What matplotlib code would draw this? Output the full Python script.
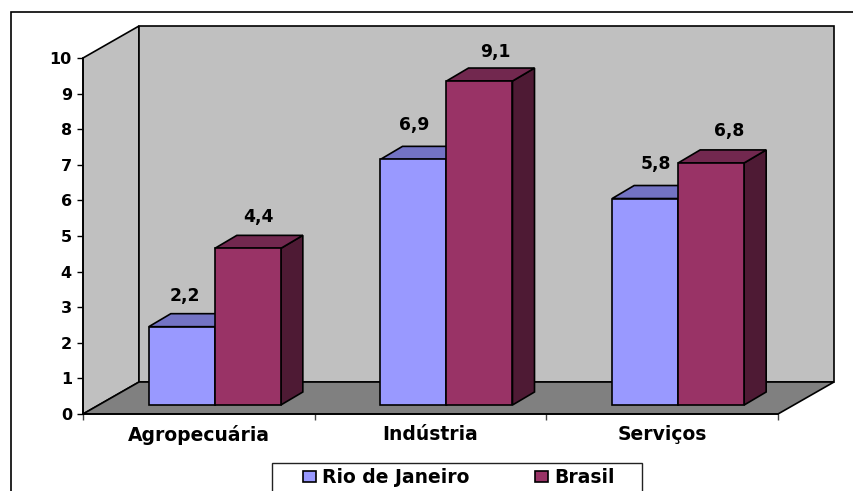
import matplotlib.pyplot as plt
from matplotlib.patches import Polygon, Rectangle

# Emprego por setor
categories = ["Agropecuária", "Indústria", "Serviços"]
series_names = ["Rio de Janeiro", "Brasil"]
rio_values = [2.2, 6.9, 5.8]
brasil_values = [4.4, 9.1, 6.8]
y_ticks = list(range(0, 11))

W, H = 854, 491
LEFT, RIGHT, TOP, BOTTOM = 83, 778, 58, 414
FONT = {"family": "DejaVu Sans", "weight": "bold"}

fig = plt.figure(figsize=(W / 100, H / 100), dpi=100, facecolor="white")
ax = fig.add_axes([LEFT / W, (H - BOTTOM) / H, (RIGHT - LEFT) / W, (BOTTOM - TOP) / H])
ax.set_xlim(0, len(categories))
ax.set_ylim(0, 10)
ax.patch.set_visible(False)

# pixel sizes converted to data units, used for the oblique depth
ux = (RIGHT - LEFT) / len(categories)
uy = (BOTTOM - TOP) / 10
wall_dx, wall_dy = 56 / ux, 32 / uy
bar_dx, bar_dy = 22 / ux, 13 / uy
front_dx, front_dy = 16 / ux, 9 / uy
bar_w = 66 / ux


def poly(points, face, z, lw=1.2):
    ax.add_patch(Polygon(points, closed=True, facecolor=face, edgecolor="black",
                         linewidth=lw, joinstyle="miter", clip_on=False, zorder=z))


n = len(categories)
# walls and floor
poly([(0, 0), (wall_dx, wall_dy), (wall_dx, 10 + wall_dy), (0, 10)], "#C0C0C0", 1)
poly([(wall_dx, wall_dy), (n + wall_dx, wall_dy), (n + wall_dx, 10 + wall_dy),
      (wall_dx, 10 + wall_dy)], "#C0C0C0", 1)
poly([(0, 0), (n, 0), (n + wall_dx, wall_dy), (wall_dx, wall_dy)], "#808080", 2)


def bar3d(x0, value, front, top, side, z):
    x1 = x0 + bar_w
    y0 = front_dy
    y1 = y0 + value
    poly([(x1, y0), (x1 + bar_dx, y0 + bar_dy), (x1 + bar_dx, y1 + bar_dy), (x1, y1)], side, z)
    poly([(x0, y1), (x1, y1), (x1 + bar_dx, y1 + bar_dy), (x0 + bar_dx, y1 + bar_dy)], top, z)
    poly([(x0, y0), (x1, y0), (x1, y1), (x0, y1)], front, z)


# label offsets from the bar's front-top centre, in pixels
rio_label_off = [(3, 31), (1, 34), (11, 35)]
brasil_label_off = [(11, 31), (16, 29), (18, 32)]

for i in range(n):
    x_rio = i + 0.5 + front_dx - bar_w
    x_bra = i + 0.5 + front_dx
    bar3d(x_rio, rio_values[i], "#9999FF", "#7373C4", "#5F5F9F", 3 + i)
    bar3d(x_bra, brasil_values[i], "#993366", "#72284F", "#4E1A34", 3 + i + 0.5)
    ax.annotate(f"{rio_values[i]}".replace(".", ","),
                (x_rio + bar_w / 2, front_dy + rio_values[i]),
                xytext=rio_label_off[i], textcoords="offset pixels",
                ha="center", va="center", fontsize=12.3, zorder=10, annotation_clip=False, **FONT)
    ax.annotate(f"{brasil_values[i]}".replace(".", ","),
                (x_bra + bar_w / 2, front_dy + brasil_values[i]),
                xytext=brasil_label_off[i], textcoords="offset pixels",
                ha="center", va="center", fontsize=12.3, zorder=10, annotation_clip=False, **FONT)

# axes
for s in ["top", "right"]:
    ax.spines[s].set_visible(False)
for s in ["left", "bottom"]:
    ax.spines[s].set_linewidth(1.2)
    ax.spines[s].set_zorder(2.5)

ax.set_yticks(y_ticks)
ax.set_yticklabels([str(t) for t in y_ticks], fontsize=11.5, **FONT)
ax.tick_params(axis="y", length=4.5, width=1, pad=3.5)
ax.set_xticks(range(n + 1))
ax.set_xticklabels([])
ax.tick_params(axis="x", which="major", length=4.5, width=1, color="#444444")
ax.set_xticks([i + 0.5 for i in range(n)], minor=True)
ax.set_xticklabels(categories, minor=True, fontsize=13.5, **FONT)
ax.tick_params(axis="x", which="minor", length=0, pad=8)

# outer frame runs past the right and bottom edges of the figure
fig.add_artist(Rectangle((11 / W, -0.1), 1, (H - 12) / H + 0.1, transform=fig.transFigure,
                         facecolor="none", edgecolor="black", linewidth=1.2))

# legend box also runs off the bottom edge
fig.add_artist(Rectangle((272 / W, -0.1), 370 / W, (H - 463) / H + 0.1, transform=fig.transFigure,
                         facecolor="white", edgecolor="#222222", linewidth=1.0))
handles = [Rectangle((0, 0), 1, 1, facecolor="#9999FF", edgecolor="black", linewidth=1.2),
           Rectangle((0, 0), 1, 1, facecolor="#993366", edgecolor="black", linewidth=1.2)]
leg = fig.legend(handles, series_names, loc="upper left", bbox_to_anchor=(303 / W, (H - 468) / H),
                 ncols=2, frameon=False, borderaxespad=0, borderpad=0,
                 handlelength=0.7, handleheight=0.55, handletextpad=0.32,
                 columnspacing=3.5, prop={"family": "DejaVu Sans", "weight": "bold", "size": 13.5})

fig.savefig("out.png", dpi=100)
